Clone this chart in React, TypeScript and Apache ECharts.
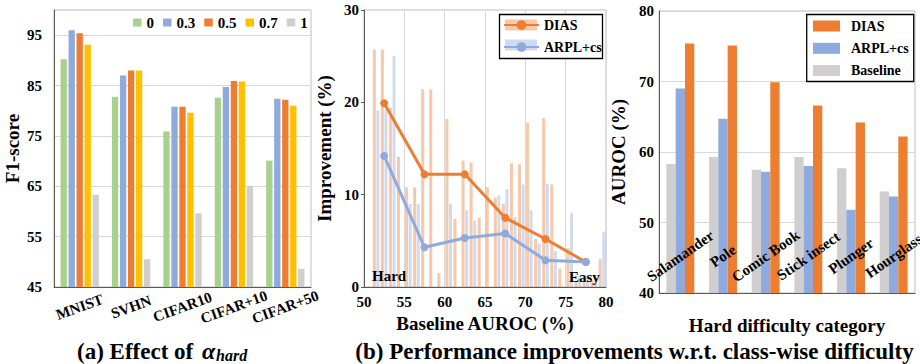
import React, { useEffect, useRef } from "react";
import * as echarts from "echarts";

const FONT = '"Liberation Serif", "Times New Roman", serif';

// ---- (a) Effect of alpha_hard ----
const datasetsA = ["MNIST", "SVHN", "CIFAR10", "CIFAR+10", "CIFAR+50"];
const alphaNames = ["0", "0.3", "0.5", "0.7", "1"];
const alpha0 = [90.2, 82.8, 75.9, 82.6, 70.1];
const alpha03 = [96.0, 87.0, 80.8, 84.7, 82.4];
const alpha05 = [95.4, 88.0, 80.8, 85.9, 82.2];
const alpha07 = [93.1, 88.0, 79.6, 85.8, 81.0];
const alpha1 = [63.3, 50.5, 59.6, 65.1, 48.6];
const alphaColors = ["#A9D18E", "#8FAADC", "#ED7D31", "#FFC000", "#D0CECE"];

// ---- (b) improvements vs baseline AUROC ----
const bins = [51, 52, 53, 54, 55, 56, 57, 58, 59, 60, 61, 62, 63, 64, 65, 66, 67, 68, 69, 70, 71, 72, 73, 74, 75, 76, 77, 78, 79];
const histDIAS = [25.7, 25.7, 19.4, 14.1, 10.8, 10.8, 21.4, 21.4, 1.5, 18.2, 7.4, 13.7, 13.5, 7.5, 10.8, 9.7, 9.0, 13.4, 13.3, 17.8, 5.2, 18.3, 11.1, 2.0, 4.2, 0.6, 0.6, 0.7, 3.0];
const histARPL = [19.1, 19.2, 25.0, 0, 9.0, 9.0, 0, 0, 0, 9.0, 0, 8.3, 7.2, 0, 0, 9.9, 10.6, 7.6, 11.1, 8.3, 4.7, 11.2, 3.9, 0, 8.0, 1.2, 1.2, 1.0, 6.0];
const lineX = [52.5, 57.5, 62.5, 67.5, 72.5, 77.5];
const lineDIAS = [19.9, 12.2, 12.2, 7.5, 5.2, 2.7];
const lineARPL = [14.2, 4.3, 5.3, 5.8, 2.9, 2.7];

// ---- (c) hard categories ----
const categoriesC = ["Salamander", "Pole", "Comic Book", "Stick insect", "Plunger", "Hourglass"];
const aurocDIAS = [75.4, 75.1, 69.9, 66.6, 64.2, 62.2];
const aurocARPL = [69.0, 64.7, 57.2, 58.0, 51.8, 53.7];
const aurocBase = [58.3, 59.3, 57.5, 59.3, 57.7, 54.4];

const ORANGE = "#ED7D31";
const BLUE = "#8FAADC";
const GRAY = "#D0CECE";
const LORANGE = "rgba(237,125,49,0.42)";
const LBLUE = "rgba(143,170,220,0.42)";
const AXIS = "#595959";
const GRID = "#D9D9D9";
const FRAME = "#BFBFBF";

const bold = (size: number) => ({ fontFamily: FONT, fontWeight: "bold" as const, fontSize: size, color: "#000" });

export default function App() {
  const ref1 = useRef<HTMLDivElement>(null);
  const ref2 = useRef<HTMLDivElement>(null);

  useEffect(() => {
    const c1 = echarts.init(ref1.current!, null, { renderer: "svg" });
    const c2 = echarts.init(ref2.current!, null, { renderer: "svg" });

    const seriesA = [alpha0, alpha03, alpha05, alpha07, alpha1].map((d, i) => ({
      name: alphaNames[i],
      type: "bar",
      xAxisIndex: 0,
      yAxisIndex: 0,
      barWidth: 6.3,
      barGap: "27%",
      itemStyle: { color: alphaColors[i] },
      data: d,
    }));

    const opt1: any = {
      animation: false,
      backgroundColor: "transparent",
      grid: [
        { left: 54, top: 10, width: 257, height: 277, show: true, borderColor: FRAME, borderWidth: 1, outerBoundsMode: "none", containLabel: false },
        { left: 364, top: 10, width: 242, height: 277, show: true, borderColor: FRAME, borderWidth: 1, outerBoundsMode: "none", containLabel: false },
      ],
      xAxis: [
        {
          type: "category",
          gridIndex: 0,
          data: datasetsA,
          axisLine: { lineStyle: { color: AXIS } },
          axisTick: { show: false },
          axisLabel: { ...bold(15), rotate: 20, align: "center", verticalAlign: "middle", margin: 20, interval: 0 },
        },
        {
          type: "value",
          gridIndex: 1,
          min: 50,
          max: 80,
          interval: 5,
          axisLine: { show: true, onZero: false, lineStyle: { color: AXIS } },
          axisTick: { show: false },
          splitLine: { show: true, lineStyle: { color: GRID } },
          axisLabel: { ...bold(15), margin: 7 },
          name: "Baseline AUROC (%)",
          nameLocation: "middle",
          nameGap: 26,
          nameTextStyle: bold(19),
        },
      ],
      yAxis: [
        {
          type: "value",
          gridIndex: 0,
          min: 45,
          max: 100,
          interval: 10,
          axisLine: { show: true, lineStyle: { color: AXIS } },
          axisTick: { show: false },
          splitLine: { show: true, lineStyle: { color: GRID } },
          axisLabel: { ...bold(15), margin: 12, showMaxLabel: false },
          name: "F1-score",
          nameLocation: "middle",
          nameGap: 32,
          nameTextStyle: bold(19),
        },
        {
          type: "value",
          gridIndex: 1,
          min: 0,
          max: 30,
          interval: 10,
          axisLine: { show: true, lineStyle: { color: AXIS } },
          axisTick: { show: true, length: 3, lineStyle: { color: AXIS } },
          splitLine: { show: false },
          axisLabel: { ...bold(15), margin: 5 },
          name: "Improvement (%)",
          nameLocation: "middle",
          nameGap: 30,
          nameTextStyle: bold(19),
        },
      ],
      legend: [
        {
          data: alphaNames,
          left: 133,
          top: 15,
          padding: 0,
          icon: "rect",
          itemWidth: 8.5,
          itemHeight: 8,
          itemGap: 9,
          textStyle: bold(15),
        },
        {
          data: ["DIAS", "ARPL+cs"],
          orient: "vertical",
          left: 503,
          top: 18,
          padding: 0,
          itemWidth: 35,
          itemHeight: 12,
          itemGap: 8,
          z: 10,
          textStyle: bold(14),
        },
      ],
      series: [
        ...seriesA,
        {
          name: "DIAS hist",
          type: "bar",
          xAxisIndex: 1,
          yAxisIndex: 1,
          barWidth: 3,
          barGap: "20%",
          itemStyle: { color: LORANGE },
          data: bins.map((b, i) => [b + 0.5, histDIAS[i]]),
        },
        {
          name: "ARPL+cs hist",
          type: "bar",
          xAxisIndex: 1,
          yAxisIndex: 1,
          barWidth: 3,
          barGap: "20%",
          itemStyle: { color: LBLUE },
          data: bins.map((b, i) => [b + 0.5, histARPL[i]]),
        },
        {
          name: "DIAS",
          type: "line",
          xAxisIndex: 1,
          yAxisIndex: 1,
          symbol: "circle",
          symbolSize: 8,
          z: 3,
          lineStyle: { color: ORANGE, width: 3 },
          itemStyle: { color: ORANGE },
          data: lineX.map((x, i) => [x, lineDIAS[i]]),
        },
        {
          name: "ARPL+cs",
          type: "line",
          xAxisIndex: 1,
          yAxisIndex: 1,
          symbol: "circle",
          symbolSize: 8,
          z: 4,
          lineStyle: { color: BLUE, width: 3 },
          itemStyle: { color: BLUE },
          data: lineX.map((x, i) => [x, lineARPL[i]]),
        },
      ],
      graphic: [
        { type: "rect", z: 6, shape: { x: 499.5, y: 14.5, width: 103, height: 44 }, style: { fill: "#fff", stroke: "#000", lineWidth: 1.3 } },
        { type: "rect", z: 7, shape: { x: 505, y: 19.5, width: 32, height: 11 }, style: { fill: LORANGE } },
        { type: "rect", z: 7, shape: { x: 505, y: 39.5, width: 32, height: 11 }, style: { fill: LBLUE } },
        { type: "text", z: 8, x: 372, y: 276, style: { text: "Hard", font: `bold 15px ${FONT}`, fill: "#000", align: "left", verticalAlign: "middle", textAlign: "left", textVerticalAlign: "middle" } },
        { type: "text", z: 8, x: 569, y: 277, style: { text: "Easy", font: `bold 15px ${FONT}`, fill: "#000", align: "left", verticalAlign: "middle", textAlign: "left", textVerticalAlign: "middle" } },
        { type: "text", z: 8, x: 77, y: 351, style: { text: "(a) Effect of", font: `bold 23px ${FONT}`, fill: "#000", align: "left", verticalAlign: "middle", textAlign: "left", textVerticalAlign: "middle" } },
        { type: "text", z: 8, x: 202, y: 351, style: { text: "α", font: `italic bold 24px ${FONT}`, fill: "#000", align: "left", verticalAlign: "middle", textAlign: "left", textVerticalAlign: "middle" } },
        { type: "text", z: 8, x: 216, y: 355, style: { text: "hard", font: `italic bold 16px ${FONT}`, fill: "#000", align: "left", verticalAlign: "middle", textAlign: "left", textVerticalAlign: "middle" } },
        { type: "text", z: 8, x: 634.5, y: 351, style: { text: "(b) Performance improvements w.r.t. class-wise difficulty", font: `bold 23px ${FONT}`, fill: "#000", align: "center", verticalAlign: "middle", textAlign: "center", textVerticalAlign: "middle" } },
      ],
    };

    const opt2: any = {
      animation: false,
      backgroundColor: "transparent",
      grid: { left: 59, top: 11, width: 256, height: 282, show: true, borderColor: FRAME, borderWidth: 1, outerBoundsMode: "none", containLabel: false },
      xAxis: {
        type: "category",
        data: categoriesC,
        z: 5,
        axisLine: { lineStyle: { color: AXIS } },
        axisTick: { show: false },
        axisLabel: { ...bold(15), rotate: 35, align: "center", verticalAlign: "middle", margin: -37, interval: 0 },
        name: "Hard difficulty category",
        nameLocation: "middle",
        nameGap: 23,
        nameTextStyle: bold(19),
      },
      yAxis: {
        type: "value",
        min: 40,
        max: 80,
        interval: 10,
        axisLine: { show: true, lineStyle: { color: AXIS } },
        axisTick: { show: false },
        splitLine: { show: true, lineStyle: { color: GRID } },
        axisLabel: { ...bold(15), margin: 5 },
        name: "AUROC (%)",
        nameLocation: "middle",
        nameGap: 24,
        nameTextStyle: bold(19),
      },
      legend: {
        data: ["DIAS", "ARPL+cs", "Baseline"],
        orient: "vertical",
        left: 213,
        top: 19,
        padding: 0,
        icon: "rect",
        itemWidth: 27,
        itemHeight: 11,
        itemGap: 8.3,
        z: 10,
        textStyle: { ...bold(14), padding: [0, 0, 0, 6] },
      },
      series: [
        { name: "Baseline", type: "bar", barWidth: 9.3, barGap: "0%", itemStyle: { color: GRAY }, data: aurocBase },
        { name: "ARPL+cs", type: "bar", barWidth: 9.3, barGap: "0%", itemStyle: { color: BLUE }, data: aurocARPL },
        { name: "DIAS", type: "bar", barWidth: 9.3, barGap: "0%", itemStyle: { color: ORANGE }, data: aurocDIAS },
      ],
      graphic: [
        { type: "rect", z: 6, shape: { x: 206.7, y: 14.5, width: 107, height: 67 }, style: { fill: "#fff", stroke: "#000", lineWidth: 1.3 } },
      ],
    };

    c1.setOption(opt1);
    c2.setOption(opt2);
    return () => {
      c1.dispose();
      c2.dispose();
    };
  }, []);

  return (
    <div style={{ position: "fixed", left: 0, top: 0, width: 920, height: 364, background: "#fff" }}>
      <div ref={ref1} style={{ position: "absolute", left: 0, top: 0, width: 920, height: 364 }} />
      <div ref={ref2} style={{ position: "absolute", left: 600, top: 0, width: 320, height: 340 }} />
    </div>
  );
}
